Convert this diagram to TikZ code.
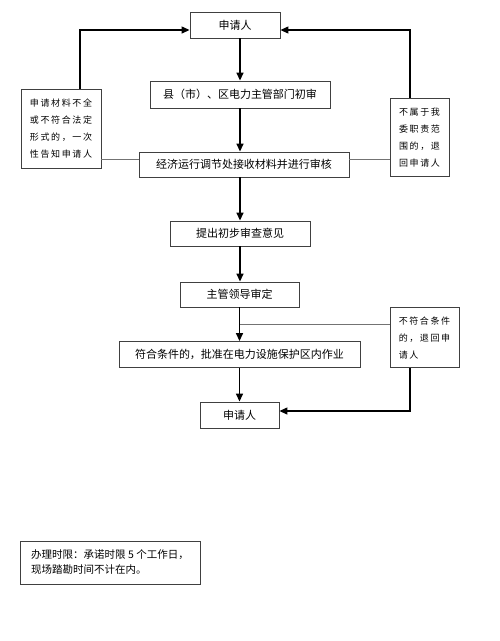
\documentclass[tikz,border=0pt]{standalone}
\usepackage{fontspec}
\setmainfont{Noto Sans CJK SC}
\newfontfamily\notefont[LetterSpace=18]{Noto Sans CJK SC}
\usetikzlibrary{arrows.meta}

\begin{document}
\begin{tikzpicture}[x=1pt,y=-1pt,
  box/.style={draw=black!75, line width=0.9pt, rectangle, align=center, inner sep=0pt, font=\fontsize{11}{13}\selectfont},
  note/.style={draw=black!75, line width=0.9pt, rectangle, align=left, inner sep=0pt, font=\notefont\fontsize{9}{17}\selectfont},
  flow/.style={-{Triangle[length=8pt,width=7pt]}, line width=1.6pt},
  link/.style={draw=black!55, line width=0.8pt}]
\useasboundingbox (0,0) rectangle (500,641);
\node[box, minimum width=90pt, minimum height=26pt] (a1) at (235,25) {申请人};
\node[box, minimum width=180pt, minimum height=27pt] (a2) at (240,94.5) {县（市）、区电力主管部门初审};
\node[box, minimum width=210pt, minimum height=25pt] (a3) at (244,164.5) {经济运行调节处接收材料并进行审核};
\node[box, minimum width=140pt, minimum height=25pt] (a4) at (240,233.5) {提出初步审查意见};
\node[box, minimum width=119pt, minimum height=25pt] (a5) at (239.5,294.5) {主管领导审定};
\node[box, minimum width=241pt, minimum height=26pt] (a6) at (239.5,354.5) {符合条件的，批准在电力设施保护区内作业};
\node[box, minimum width=79pt, minimum height=26pt] (a7) at (239.5,415) {申请人};
\node[note, minimum width=80pt, minimum height=79pt] (n1) at (61,128.8) {申请材料不全\\或不符合法定\\形式的，一次\\性告知申请人};
\node[note, minimum width=59pt, minimum height=78pt] (n2) at (419.5,137.5) {不属于我\\委职责范\\围的，退\\回申请人};
\node[note, minimum width=69pt, minimum height=60pt] (n3) at (424.5,337.7) {不符合条件\\的，退回申\\请人};
\node[box, align=left, minimum width=180pt, minimum height=43pt, font=\fontsize{10.5}{15}\selectfont] (n4) at (110,562.5) {办理时限：承诺时限 5 个工作日，\\现场踏勘时间不计在内。};
\coordinate (l1) at (80,30);
\coordinate (r1) at (410,30);
\coordinate (r2) at (410,411);
\coordinate (br) at (240,324);
\coordinate (mid) at (244,159);
% main flow
\draw[flow] (a1.south -| a2.north) -- (a2.north);
\draw[flow] (a2.south) -- (a2.south |- a3.north);
\draw[flow] (a2.south |- a3.south) -- (a4.north);
\draw[flow] (a4.south) -- (a4.south |- a5.north);
\draw[flow] (a5.south) -- (a5.south |- a6.north);
\draw[flow] (a6.south) -- (a6.south |- a7.north);
% returns
\draw[link] (a3.west |- mid) -- (n1.east |- mid);
\draw[link] (a3.east |- mid) -- (n2.west |- mid);
\draw[link] (br) -- (n3.west |- br);
\draw[flow, line width=1.3pt] (l1 |- n1.north) -- (l1) -- (a1.west |- l1);
\draw[flow, line width=1.3pt] (r1 |- n2.north) -- (r1) -- (a1.east |- r1);
\draw[flow, line width=1.3pt] (r2 |- n3.south) -- (r2) -- (a7.east |- r2);
\end{tikzpicture}
\end{document}
